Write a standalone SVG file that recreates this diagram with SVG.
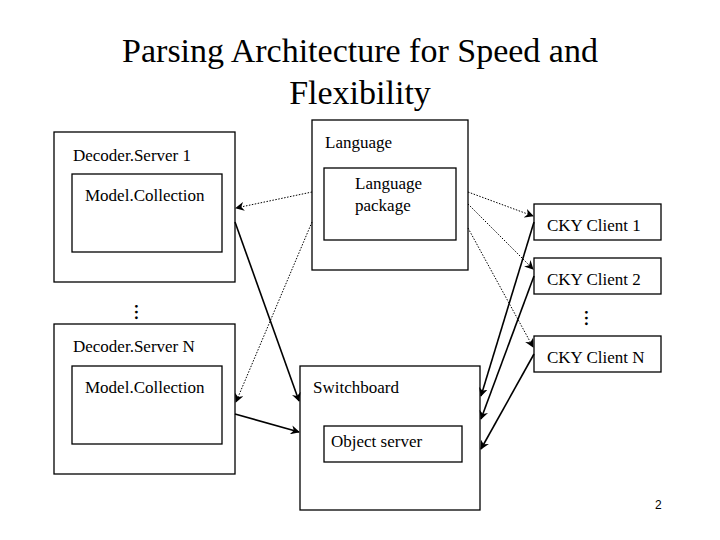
<svg xmlns="http://www.w3.org/2000/svg" width="720" height="540" viewBox="0 0 720 540" font-family="Liberation Serif, DejaVu Serif, serif">
<style>
text{font-family:'Liberation Serif','DejaVu Serif','Times New Roman',serif;fill:#000}
.t{font-size:34px;text-anchor:middle}
.l{font-size:17px}
rect{fill:none;stroke:#000;stroke-width:1.3}
.d{stroke:#000;stroke-width:1;stroke-dasharray:1.5 1.5;fill:none}
.s{stroke:#000;stroke-width:1.6;fill:none}
</style>
<defs><marker id="a" viewBox="0 0 10 10" refX="9" refY="5" markerWidth="9" markerHeight="9" markerUnits="userSpaceOnUse" orient="auto"><path d="M0,0L10,5L0,10L3,5z" fill="#000"/></marker></defs>
<rect x="0" y="0" width="720" height="540" style="fill:#fff;stroke:none"/>
<text class="t" x="360" y="62">Parsing Architecture for Speed and</text>
<text class="t" x="360" y="104">Flexibility</text>
<g id="ds1"><rect x="54" y="132" width="181" height="150"/><text class="l" x="73" y="161">Decoder.Server 1</text>
<rect x="72" y="174" width="150" height="78"/><text class="l" x="85" y="201">Model.Collection</text></g>
<g id="dots1"><text class="l" x="143" y="320" style="font-weight:bold" text-anchor="middle" transform="rotate(90 143 312)">…</text></g>
<g id="dsn"><rect x="54" y="324" width="181" height="150"/><text class="l" x="73" y="352">Decoder.Server N</text>
<rect x="72" y="366" width="150" height="78"/><text class="l" x="85" y="393">Model.Collection</text></g>
<g id="lang"><rect x="312" y="120" width="156" height="150"/><text class="l" x="325" y="148">Language</text>
<rect x="324" y="168" width="132" height="72"/><text class="l" x="355" y="189">Language</text><text class="l" x="355" y="211">package</text></g>
<g id="sw"><rect x="300" y="366" width="180" height="144"/><text class="l" x="313" y="393">Switchboard</text>
<rect x="324" y="426" width="138" height="36"/><text class="l" x="331" y="447">Object server</text></g>
<g id="c1"><rect x="534" y="204" width="127" height="36"/><text class="l" x="547" y="231">CKY Client 1</text></g>
<g id="c2"><rect x="534" y="258" width="127" height="36"/><text class="l" x="547" y="285">CKY Client 2</text></g>
<g id="dots2"><text class="l" x="593" y="326" style="font-weight:bold" text-anchor="middle" transform="rotate(90 593 318)">…</text></g>
<g id="cn"><rect x="534" y="336" width="127" height="36"/><text class="l" x="547" y="363">CKY Client N</text></g>
<text x="655" y="509" style="font-family:'Liberation Sans',Arial,sans-serif;font-size:12px">2</text>
<g id="connectors">
<path class="d" d="M312,192L236,208" marker-end="url(#a)"/>
<path class="d" d="M312,222L236,402" marker-end="url(#a)"/>
<path class="d" d="M468,192L533,216" marker-end="url(#a)"/>
<path class="d" d="M468,204L533,269" marker-end="url(#a)"/>
<path class="d" d="M468,228L533,347" marker-end="url(#a)"/>
<path class="s" d="M235,222L299,401" marker-end="url(#a)"/>
<path class="s" d="M235,414L299,432" marker-end="url(#a)"/>
<path class="s" d="M534,222L481,396" marker-end="url(#a)"/>
<path class="s" d="M534,276L481,419" marker-end="url(#a)"/>
<path class="s" d="M534,354L481,449" marker-end="url(#a)"/>
</g>
</svg>
